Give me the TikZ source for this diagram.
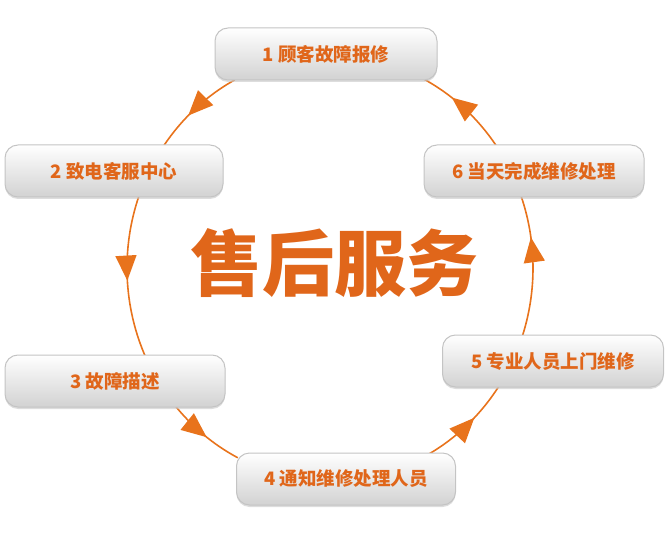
\documentclass[tikz,border=0pt]{standalone}
\usepackage{fontspec}
\newfontfamily\cjk{Noto Sans CJK SC}
\usetikzlibrary{arrows.meta,decorations.markings,shadows,calc}
\definecolor{arcor}{HTML}{E8731C}
\definecolor{txtor}{HTML}{E0661A}
\definecolor{boxbot}{HTML}{D2D2D2}
\definecolor{boxline}{HTML}{C4C4C4}
\tikzset{
  stepbox/.style={rounded corners=13pt, minimum width=#1, minimum height=52pt,
    top color=white, bottom color=boxbot, draw=boxline, line width=1pt,
    drop shadow={shadow xshift=0pt, shadow yshift=-2pt, fill=gray!45, opacity=0.6},
    text=txtor, font=\cjk\bfseries\fontsize{18.5}{20}\selectfont, inner sep=0pt},
  ringarc/.style={draw=arcor, line width=1.6pt,
    postaction={decorate, decoration={markings,
      mark=at position #1 with {\arrow[arcor]{Triangle[length=25pt,width=21pt]}}}}},
}
\begin{document}
\begin{tikzpicture}[x=1pt,y=1pt]
\useasboundingbox (0,0) rectangle (668,549);
\coordinate (ctr) at (330,281);
% arc end points on the ellipse
\foreach \n/\a in {s1/118,s2/160,s3/220,s4/299,s5/341,s6/395}{
  \coordinate (\n) at ($(ctr)+(\a:203pt and 213pt)$);
}
% connectors (ellipse arcs between the boxes)
\draw[ringarc=0.58] (s1) arc[start angle=118, end angle=146, x radius=203pt, y radius=213pt];
\draw[ringarc=0.52] (s2) arc[start angle=160, end angle=205, x radius=203pt, y radius=213pt];
\draw[ringarc=0.55] (s3) arc[start angle=220, end angle=243, x radius=203pt, y radius=213pt];
\draw[ringarc=0.58] (s4) arc[start angle=299, end angle=327, x radius=203pt, y radius=213pt];
\draw[ringarc=0.7]  (s5) arc[start angle=341, end angle=380, x radius=203pt, y radius=213pt];
\draw[ringarc=0.65] (s6) arc[start angle=395, end angle=423, x radius=203pt, y radius=213pt];
% boxes
\node[stepbox=222pt] (box1) at (326,495) {1\hspace{4pt}顾客故障报修};
\node[stepbox=218pt] (box2) at (114,378) {2\hspace{4pt}致电客服中心};
\node[stepbox=220pt] (box3) at (115,168) {3\hspace{4pt}故障描述};
\node[stepbox=219pt] (box4) at (346,70) {4\hspace{4pt}通知维修处理人员};
\node[stepbox=221pt] (box5) at (553,188) {5\hspace{4pt}专业人员上门维修};
\node[stepbox=220pt] (box6) at (534,378) {6\hspace{4pt}当天完成维修处理};
% title
\node[text=txtor, font=\cjk\bfseries\fontsize{72}{76}\selectfont] (title) at (334,286) {售后服务};
\end{tikzpicture}
\end{document}
